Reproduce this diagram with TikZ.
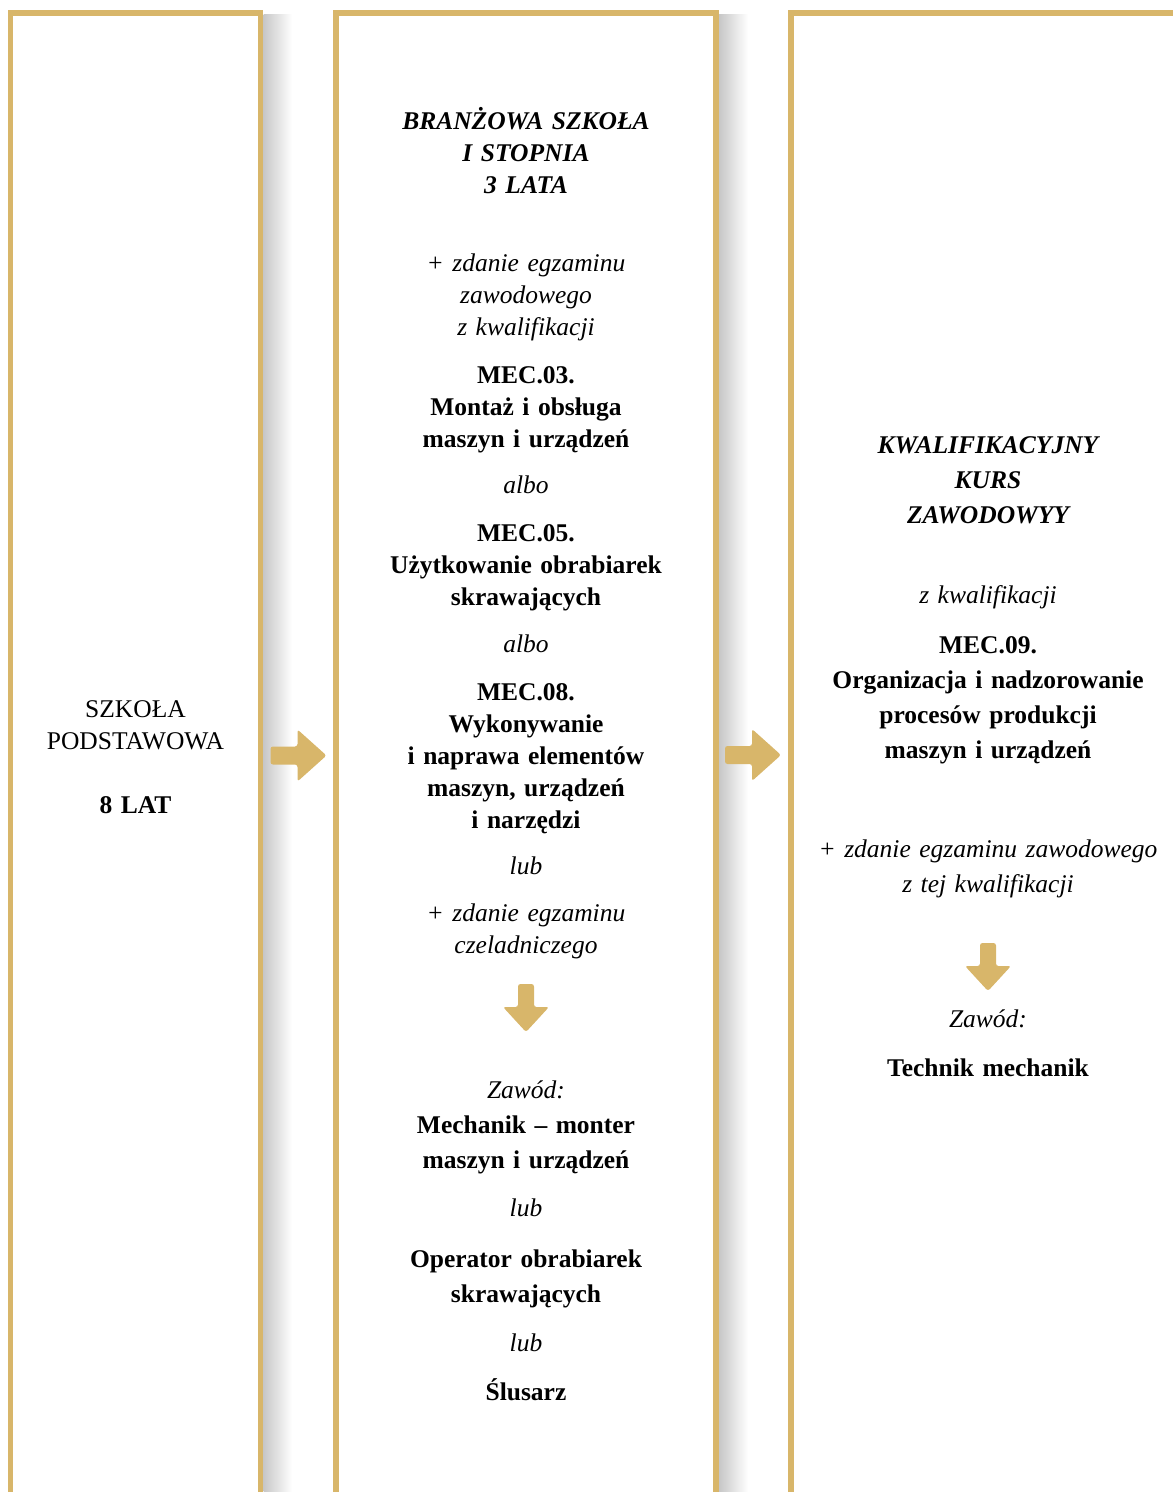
\documentclass[tikz,border=0pt]{standalone}
\usepackage{fontspec}
\setmainfont{Liberation Serif}

\definecolor{gold}{RGB}{216,182,106}
\newcommand\leadA{\fontsize{25.5}{32}\selectfont}
\newcommand\leadB{\fontsize{25.5}{35}\selectfont}

\tikzset{
  frame/.style={draw=gold, line width=5.5pt},
  sidefade/.style={left color=black!22, right color=white},
  txt/.style={text width=#1, align=center, inner sep=0pt, anchor=base},
  txt/.default=360pt,
  titletext/.style={txt, font=#1\bfseries\itshape},
  titletext/.default=\leadA,
  notetext/.style={txt, font=#1\itshape},
  notetext/.default=\leadA,
  qualtext/.style={txt, font=#1\bfseries},
  qualtext/.default=\leadA,
  rightarrow/.pic={
    \fill[gold, rounded corners=2.5pt] (0,-9) -- (27,-9) -- (27,-26) -- (56,0)
      -- (27,26) -- (27,9) -- (0,9) -- cycle;
  },
  downarrow/.pic={
    \fill[gold, rounded corners=2.5pt] (-8,0) -- (8,0) -- (8,23) -- (23,23)
      -- (0,48) -- (-23,23) -- (-8,23) -- cycle;
  }
}

\begin{document}
\begin{tikzpicture}[x=1pt, y=-1pt]
  \useasboundingbox (0,0) rectangle (1173,1492);

  \shade[sidefade] (263.5,14) rectangle (292,1492);
  \shade[sidefade] (719,14) rectangle (748,1492);

  \draw[frame] (10.5,1500) -- (10.5,13) -- (260.5,13) -- (260.5,1500);
  \draw[frame] (336,1500) -- (336,13) -- (716,13) -- (716,1500);
  \draw[frame] (791,1500) -- (791,13) -- (1185,13);

  \pic (arrA) at (270.5,755.5) {rightarrow};
  \pic (arrB) at (725,755) {rightarrow};
  \pic (arrC) at (526,984) {downarrow};
  \pic (arrD) at (988,943) {downarrow};

  % szkola podstawowa
  \node[txt=240pt, font=\leadA] (podst) at (135.5,717.5) {SZKOŁA\\PODSTAWOWA};
  \node[qualtext, text width=240pt] (podstlat) at (135.5,813.5) {8 LAT};

  % branzowa szkola
  \node[titletext] (bs) at (526,129) {BRANŻOWA SZKOŁA\\I STOPNIA\\3 LATA};
  \node[notetext] (bsegz) at (526,271) {+ zdanie egzaminu\\zawodowego\\z kwalifikacji};
  \node[qualtext] (mec03) at (526,383.5) {MEC.03.\\Montaż i obsługa\\maszyn i urządzeń};
  \node[notetext] (alboA) at (526,493) {albo};
  \node[qualtext] (mec05) at (526,541.5) {MEC.05.\\Użytkowanie obrabiarek\\skrawających};
  \node[notetext] (alboB) at (526,652) {albo};
  \node[qualtext] (mec08) at (526,700.5) {MEC.08.\\Wykonywanie\\i naprawa elementów\\maszyn, urządzeń\\i narzędzi};
  \node[notetext] (lubA) at (526,874) {lub};
  \node[notetext] (bscel) at (526,921) {+ zdanie egzaminu\\czeladniczego};
  \node[notetext] (bszaw) at (526,1098) {Zawód:};
  \node[qualtext=\leadB] (mech) at (526,1133) {Mechanik – monter\\maszyn i urządzeń};
  \node[notetext] (lubB) at (526,1216) {lub};
  \node[qualtext=\leadB] (oper) at (526,1267) {Operator obrabiarek\\skrawających};
  \node[notetext] (lubC) at (526,1351) {lub};
  \node[qualtext] (slus) at (526,1400.5) {Ślusarz};

  % kurs zawodowy
  \node[titletext=\leadB] (kkz) at (988,453) {KWALIFIKACYJNY\\KURS\\ZAWODOWYY};
  \node[notetext] (kkzkw) at (988,603) {z kwalifikacji};
  \node[qualtext=\leadB] (mec09) at (988,653.5) {MEC.09.\\Organizacja i nadzorowanie\\procesów produkcji\\maszyn i urządzeń};
  \node[notetext=\leadB] (kkzegz) at (988,857) {+ zdanie egzaminu zawodowego\\z tej kwalifikacji};
  \node[notetext] (kkzzaw) at (988,1027) {Zawód:};
  \node[qualtext] (techn) at (988,1076) {Technik mechanik};
\end{tikzpicture}
\end{document}
